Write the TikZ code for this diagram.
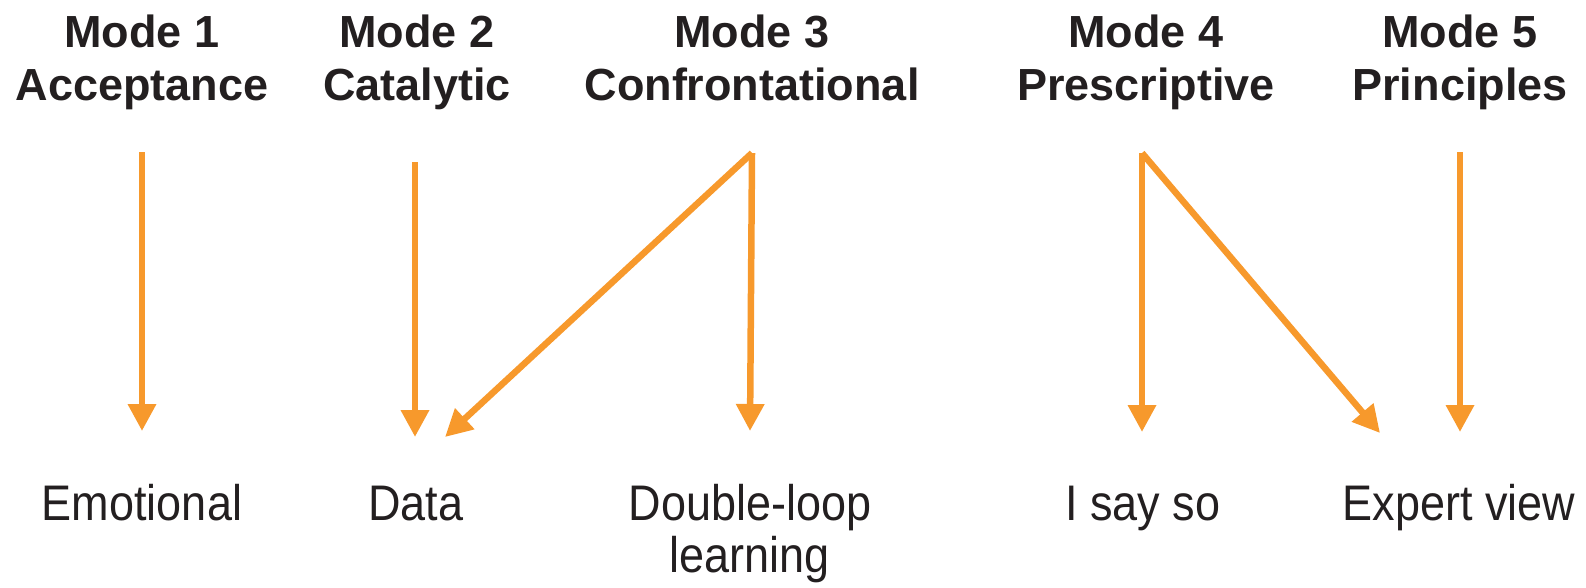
\documentclass[tikz,border=0pt]{standalone}
\usepackage{fontspec}
\setmainfont{Liberation Sans}
\newfontfamily\narrowfont[FakeStretch=0.9]{Liberation Sans}
\usetikzlibrary{arrows.meta}
\definecolor{arrowor}{RGB}{247,153,44}
\definecolor{txt}{RGB}{35,31,32}
\tikzset{
  head/.style={font=\fontsize{45}{53}\selectfont\bfseries, text=txt, align=center, anchor=base, inner sep=0pt},
  lab/.style={font=\narrowfont\fontsize{50}{52}\selectfont, text=txt, align=center, anchor=base, inner sep=0pt},
  conn/.style={draw=arrowor, line width=6.5pt, -{Triangle[width=27pt,length=27pt]}}
}
\begin{document}
\begin{tikzpicture}[x=1pt,y=-1pt]
\useasboundingbox (0,0) rectangle (1586,587);
% headings (anchor at baseline of last line)
\node[head] (h1) at (142,100) {Mode 1\\Acceptance};
\node[head] (h2) at (417,100) {Mode 2\\Catalytic};
\node[head] (h3) at (752,100) {Mode 3\\Confrontational};
\node[head] (h4) at (1146,100) {Mode 4\\Prescriptive};
\node[head] (h5) at (1460,100) {Mode 5\\Principles};
% bottom labels
\node[lab] (b1) at (142,520) {Emotional};
\node[lab] (b2) at (416,520) {Data};
\node[lab] (b3) at (750,572) {Double-loop\\learning};
\node[lab] (b4) at (1143,520) {I say so};
\node[lab] (b5) at (1459,520) {Expert view};
% connector ends
\coordinate (s1) at (142,152);
\coordinate (s2) at (415,162);
\coordinate (s3) at (752,153);
\coordinate (s4) at (1142,153);
\coordinate (s5) at (1460,152);
\coordinate (t1) at (142,431);
\coordinate (t2) at (415,437);
\coordinate (t2b) at (445,437);
\coordinate (t3) at (750,431);
\coordinate (t4) at (1142,432);
\coordinate (t4b) at (1380,433);
\coordinate (t5) at (1460,432);
% connectors
\draw[conn] (s1) -- (t1);
\draw[conn] (s2) -- (t2);
\draw[conn, line join=round] (s3) -- (t2b);
\draw[conn] (s3) -- (t3);
\draw[conn] (s4) -- (t4);
\draw[conn, line join=round] (s4) -- (t4b);
\draw[conn] (s5) -- (t5);
\end{tikzpicture}
\end{document}
